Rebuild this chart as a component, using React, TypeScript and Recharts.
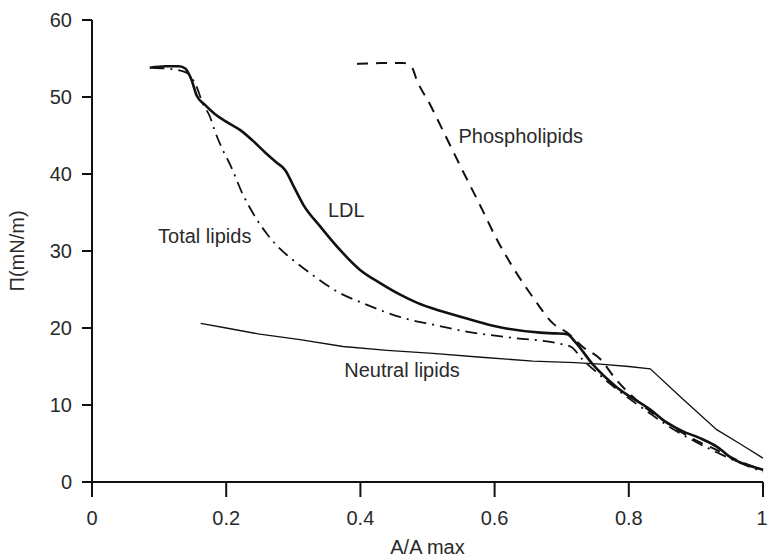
import { LineChart, Line, XAxis, YAxis, ReferenceDot } from 'recharts'

type Pt = { x: number; y: number }
const pts = (rows: number[][]): Pt[] => rows.map(([x, y]) => ({ x, y }))

// values (A/A max, mN/m)
const ldl = pts([
	[0.086, 53.8], [0.11, 54.0], [0.13, 54.0], [0.139, 53.7], [0.148, 52.3], [0.156, 50.2],
	[0.168, 49], [0.183, 47.8], [0.2, 46.8], [0.221, 45.7], [0.24, 44.3], [0.258, 42.8],
	[0.275, 41.5], [0.288, 40.5], [0.3, 38.5], [0.315, 36], [0.34, 33.2], [0.37, 30.1],
	[0.4, 27.5], [0.43, 25.8], [0.46, 24.3], [0.484, 23.3], [0.52, 22.2], [0.56, 21.2],
	[0.608, 20.1], [0.668, 19.4], [0.69, 19.3], [0.708, 19.2], [0.72, 18.2],
	[0.747, 15.2], [0.782, 12.3], [0.832, 9.4], [0.857, 7.7], [0.88, 6.6], [0.906, 5.7],
	[0.931, 4.6], [0.955, 3.0], [0.98, 2.1], [1.0, 1.6],
])

const totalLipids = pts([
	[0.09, 53.8], [0.12, 53.6], [0.14, 53.2], [0.155, 51.5], [0.165, 49.2], [0.176, 47.4],
	[0.183, 45.6], [0.195, 43.1], [0.206, 41.2], [0.224, 37.5], [0.24, 34.9], [0.26, 32.3],
	[0.28, 30.3], [0.3, 28.8], [0.33, 26.8], [0.36, 25], [0.41, 23], [0.46, 21.4],
	[0.51, 20.4], [0.56, 19.5], [0.63, 18.7], [0.7, 17.9], [0.715, 17.5], [0.73, 16],
	[0.75, 14.4], [0.78, 12.2], [0.83, 9], [0.86, 7.2], [0.9, 5.2], [0.93, 3.9],
	[0.96, 2.7], [1.0, 1.3],
])

const phospholipids = pts([
	[0.395, 54.3], [0.43, 54.4], [0.465, 54.4], [0.477, 53.8], [0.484, 52.2], [0.504, 49.0],
	[0.526, 45.1], [0.548, 41.2], [0.578, 36.0], [0.604, 31.4], [0.63, 27.5], [0.657, 24],
	[0.687, 20.6], [0.708, 19.4], [0.732, 17.5], [0.757, 16], [0.782, 13.2],
	[0.82, 10], [0.86, 7.5], [0.9, 5.4], [0.93, 4.2], [0.96, 2.9], [1.0, 1.5],
])

const neutralLipids = pts([
	[0.162, 20.6], [0.2, 20], [0.25, 19.2], [0.31, 18.5], [0.374, 17.6], [0.44, 17.1],
	[0.508, 16.7], [0.58, 16.2], [0.657, 15.7], [0.72, 15.5], [0.757, 15.3], [0.8, 15],
	[0.832, 14.7], [0.88, 10.8], [0.931, 6.8], [0.965, 5], [1.0, 3.1],
])

const xTicks = [0, 0.2, 0.4, 0.6, 0.8, 1]
const yTicks = [0, 10, 20, 30, 40, 50, 60]

// curve names, placed in data units
const annotations = [
	{ text: 'Phospholipids', x: 0.639, y: 44.9 },
	{ text: 'LDL', x: 0.379, y: 35.3 },
	{ text: 'Total lipids', x: 0.168, y: 32 },
	{ text: 'Neutral lipids', x: 0.462, y: 14.6 },
]

const ink = '#111'
const textColor = '#2a2a2a'
const font = '"Liberation Sans", Arial, sans-serif'

export default function App() {
	return (
		<div style={{ position: 'absolute', left: 0, top: 0, background: '#fff' }}>
			<LineChart
				width={767}
				height={558}
				margin={{ top: 20, right: 4, bottom: 0, left: 0 }}
				style={{ fontFamily: font }}
			>
				<XAxis
					type="number"
					dataKey="x"
					domain={[0, 1]}
					ticks={xTicks}
					height={76}
					tickSize={15}
					tickMargin={14}
					axisLine={{ stroke: ink, strokeWidth: 2 }}
					tickLine={{ stroke: ink, strokeWidth: 2 }}
					tick={{ fill: textColor, fontSize: 20 }}
					label={{ value: 'A/A max', position: 'insideBottom', offset: 4, fill: textColor, fontSize: 20 }}
				/>
				<YAxis
					type="number"
					domain={[0, 60]}
					ticks={yTicks}
					width={92}
					tickSize={10}
					tickMargin={10}
					axisLine={{ stroke: ink, strokeWidth: 2 }}
					tickLine={{ stroke: ink, strokeWidth: 2 }}
					tick={{ fill: textColor, fontSize: 20 }}
					label={{
						value: 'Π(mN/m)',
						angle: -90,
						position: 'insideLeft',
						offset: 17,
						fill: textColor,
						fontSize: 20,
						style: { textAnchor: 'middle' },
					}}
				/>
				<Line data={neutralLipids} dataKey="y" type="linear" stroke={ink} strokeWidth={1.3} dot={false} isAnimationActive={false} />
				<Line data={phospholipids} dataKey="y" type="monotone" stroke={ink} strokeWidth={2} strokeDasharray="11 8" dot={false} isAnimationActive={false} />
				<Line data={totalLipids} dataKey="y" type="monotone" stroke={ink} strokeWidth={1.8} strokeDasharray="12 6 2 6" dot={false} isAnimationActive={false} />
				<Line data={ldl} dataKey="y" type="monotone" stroke={ink} strokeWidth={2.6} dot={false} isAnimationActive={false} />
				{annotations.map(a => (
					<ReferenceDot
						key={a.text}
						x={a.x}
						y={a.y}
						r={0}
						stroke="none"
						fill="none"
						label={{ value: a.text, position: 'center', fill: textColor, fontSize: 20 }}
					/>
				))}
			</LineChart>
		</div>
	)
}
